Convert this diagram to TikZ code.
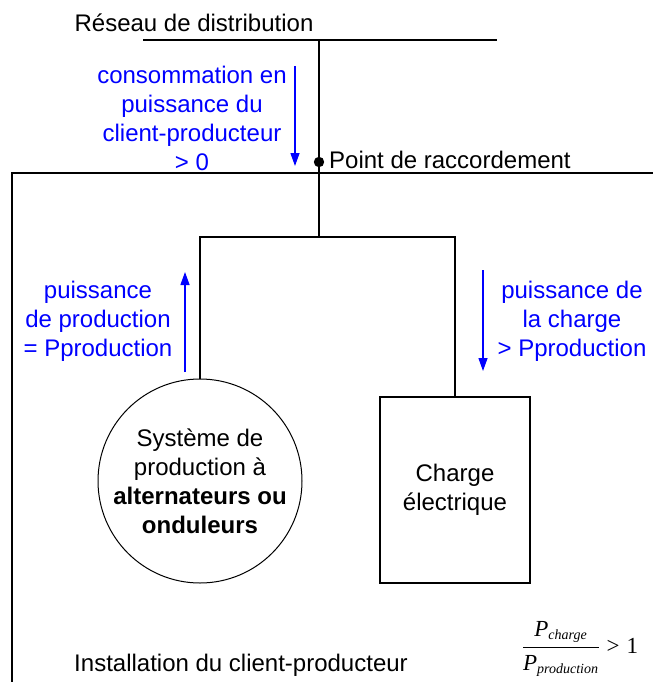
\documentclass[tikz,border=0pt]{standalone}
\usepackage{fontspec}
\setmainfont{Liberation Sans}
\newfontfamily\timesfont{Liberation Serif}
\usetikzlibrary{arrows.meta}

\begin{document}
\begin{tikzpicture}
  [x=1pt, y=-1pt, font=\fontsize{24}{29}\selectfont,
   wire/.style={line width=1.2pt},
   flow/.style={draw=blue, line width=1.3pt, -{Triangle[length=13pt,width=9pt]}},
   flowtext/.style={text=blue, align=center, inner sep=0pt},
   source/.style={circle, draw, line width=1pt, minimum size=204pt, align=center, inner sep=0pt},
   demand/.style={rectangle, draw, line width=1.2pt, minimum width=150pt, minimum height=186pt, align=center}]
  \useasboundingbox (0,0) rectangle (653,682);
  % network side
  \node (reseau) at (194,23) {Réseau de distribution};
  \coordinate (gridL) at (143,40);
  \coordinate (gridR) at (497,40);
  \coordinate (gridT) at (319,40);
  \coordinate (pcc) at (319,162);
  \coordinate (jn) at (319,237);
  \draw[wire] (gridL) -- (gridR);
  \draw[wire] (gridT) -- (jn);
  \fill (pcc) circle (5.2);
  \node[anchor=west, inner sep=0pt] (pcclabel) at (329,160) {Point de raccordement};
  % installation boundary
  \coordinate (instBL) at (12,682);
  \coordinate (instTL) at (12,173);
  \coordinate (instTR) at (653,173);
  \draw[wire] (instBL) -- (instTL) -- (instTR);
  % production and load
  \node[source] (gen) at (200,481) {Système de\\production à\\\textbf{alternateurs ou}\\\textbf{onduleurs}};
  \node[demand] (charge) at (455,490) {Charge\\électrique};
  \draw[wire] (gen.north) |- (jn) -| (charge.north);
  % power flows
  \coordinate (consoA) at (295,66);
  \coordinate (consoB) at (295,166);
  \draw[flow] (consoA) -- (consoB);
  \node[flowtext] (consotext) at (192,118) {consommation en\\puissance du\\client-producteur\\> 0};
  \coordinate (prodA) at (185,372);
  \coordinate (prodB) at (185,272);
  \draw[flow] (prodA) -- (prodB);
  \node[flowtext] (prodtext) at (98,321) {puissance\\de production\\= Pproduction};
  \coordinate (loadA) at (483,270);
  \coordinate (loadB) at (483,371);
  \draw[flow] (loadA) -- (loadB);
  \node[flowtext] (loadtext) at (572,321) {puissance de\\la charge\\> Pproduction};
  % bottom
  \node (install) at (241,665) {Installation du client-producteur};
  \node[font=\fontsize{23}{28}\selectfont\timesfont] (ratio) at (580,649)
    {$\displaystyle\frac{\mbox{\itshape P}_{\mbox{\fontsize{14}{14}\selectfont\itshape charge}}\rule[-4pt]{0pt}{4pt}}{\rule{0pt}{20pt}\mbox{\itshape P}_{\mbox{\fontsize{14}{14}\selectfont\itshape production}}}\mathrel{\mbox{>}}\mbox{1}$};
\end{tikzpicture}
\end{document}
